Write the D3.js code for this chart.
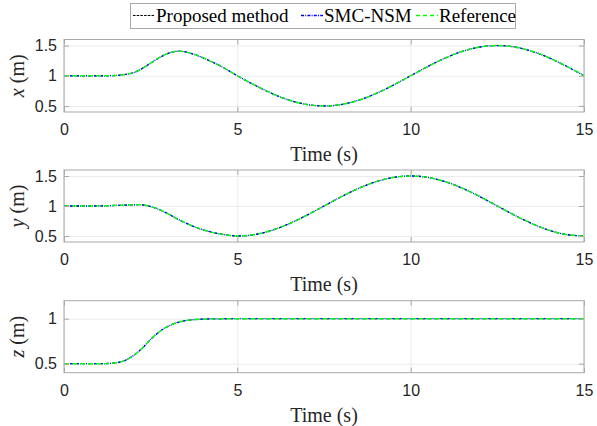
<!DOCTYPE html>
<html>
<head>
<meta charset="utf-8">
<script src="https://cdn.jsdelivr.net/npm/d3@7"></script>
<style>
  body { margin: 0; background: #fff; }
  svg { display: block; }
</style>
</head>
<body>
<svg id="chart" width="597" height="426"></svg>
<script>
// time samples (s)
const time = [0, 0.25, 0.5, 0.75, 1, 1.25, 1.5, 1.75, 2, 2.25, 2.5, 2.75, 3, 3.25, 3.5, 3.75, 4, 4.25, 4.5, 4.75, 5,
  5.5, 6, 6.5, 7, 7.5, 8, 8.5, 9, 9.5, 10, 10.5, 11, 11.5, 12, 12.5, 13, 13.5, 14, 14.5, 15];

// reference trajectory
const xRef = [1, 1, 1, 1, 1, 1, 1.005, 1.02, 1.05, 1.12, 1.21, 1.3, 1.37, 1.405, 1.395, 1.355, 1.3, 1.235, 1.165, 1.085, 1.0,
  0.845, 0.706, 0.595, 0.524, 0.5, 0.524, 0.595, 0.706, 0.845, 1.0, 1.155, 1.294, 1.405, 1.476, 1.5, 1.476, 1.405, 1.294, 1.155, 1.0];
const yRef = [1, 1, 1, 1, 1.002, 1.005, 1.01, 1.015, 1.02, 1.02, 0.99, 0.94, 0.87, 0.79, 0.72, 0.655, 0.605, 0.565, 0.535, 0.512, 0.5,
  0.524, 0.595, 0.706, 0.845, 1.0, 1.155, 1.294, 1.405, 1.476, 1.5, 1.476, 1.405, 1.294, 1.155, 1.0, 0.845, 0.706, 0.595, 0.524, 0.5];
const zRef = [0.5, 0.5, 0.5, 0.5, 0.5, 0.502, 0.51, 0.535, 0.59, 0.67, 0.77, 0.855, 0.915, 0.955, 0.978, 0.99, 0.995, 0.998, 0.999, 1, 1,
  1, 1, 1, 1, 1, 1, 1, 1, 1, 1, 1, 1, 1, 1, 1, 1, 1, 1, 1, 1];

// both controllers track the reference so closely that the curves coincide
const xProposed = xRef.slice(), yProposed = yRef.slice(), zProposed = zRef.slice();
const xSmc = xRef.slice(), ySmc = yRef.slice(), zSmc = zRef.slice();

const timeTicks = [0, 5, 10, 15];
const legendLabels = ["Proposed method", "SMC-NSM", "Reference"];

const svg = d3.select("#chart");
const left = 64, right = 584;
const boxColor = "#a8a8a8", gridColor = "#ebebeb", textColor = "#262626";

// black sits under the blue dashes, green dashes on top
const styles = [
  {color: "#000000", dash: "3,3", width: 0.8, legendDash: "2.5,1.2"},
  {color: "#0000ff", dash: "3,1,1,1", width: 1.3, legendDash: "3,1.2,1,1.2"},
  {color: "#00ff00", dash: "5,3", width: 1.4, legendDash: "4,3"}
];

const panels = [
  {top: 39.5, bottom: 112, domain: [0.4, 1.6], ticks: [0.5, 1, 1.5], name: "x", series: [xProposed, xSmc, xRef]},
  {top: 170, bottom: 242, domain: [0.4, 1.6], ticks: [0.5, 1, 1.5], name: "y", series: [yProposed, ySmc, yRef]},
  {top: 300.7, bottom: 372.7, domain: [0.4, 1.2], ticks: [0.5, 1], name: "z", series: [zProposed, zSmc, zRef]}
];

const x = d3.scaleLinear().domain([0, 15]).range([0, right - left]);
const fmt = d => String(d);

panels.forEach((p, i) => {
  const h = p.bottom - p.top, w = right - left;
  const y = d3.scaleLinear().domain(p.domain).range([h, 0]);
  const g = svg.append("g").attr("transform", `translate(${left},${p.top})`);

  // grid
  g.append("g").attr("transform", `translate(0,${h})`)
    .call(d3.axisBottom(x).tickValues(timeTicks).tickSize(-h).tickFormat(""))
    .call(a => a.select(".domain").remove())
    .selectAll("line").attr("stroke", gridColor);
  g.append("g")
    .call(d3.axisLeft(y).tickValues(p.ticks).tickSize(-w).tickFormat(""))
    .call(a => a.select(".domain").remove())
    .selectAll("line").attr("stroke", gridColor);

  // curves
  const clipId = "clip" + i;
  g.append("clipPath").attr("id", clipId).append("rect").attr("width", w).attr("height", h);
  p.series.forEach((vals, k) => {
    const line = d3.line().x((d, j) => x(time[j])).y(d => y(d)).curve(d3.curveCatmullRom);
    g.append("path").datum(vals)
      .attr("clip-path", `url(#${clipId})`)
      .attr("fill", "none")
      .attr("stroke", styles[k].color)
      .attr("stroke-width", styles[k].width)
      .attr("stroke-dasharray", styles[k].dash)
      .attr("d", line);
  });

  // axes with inward ticks on all four sides
  const bottomAxis = g.append("g").attr("transform", `translate(0,${h})`)
    .call(d3.axisBottom(x).tickValues(timeTicks).tickSize(-5).tickPadding(12).tickFormat(fmt));
  const leftAxis = g.append("g")
    .call(d3.axisLeft(y).tickValues(p.ticks).tickSize(-5).tickPadding(7).tickFormat(fmt));
  const topAxis = g.append("g")
    .call(d3.axisTop(x).tickValues(timeTicks).tickSize(-5).tickFormat(""));
  const rightAxis = g.append("g").attr("transform", `translate(${w},0)`)
    .call(d3.axisRight(y).tickValues(p.ticks).tickSize(-5).tickFormat(""));
  [bottomAxis, leftAxis, topAxis, rightAxis].forEach(a => {
    a.select(".domain").remove();
    a.selectAll("line").attr("stroke", boxColor);
    a.selectAll("text")
      .attr("fill", textColor)
      .style("font-family", "'Liberation Sans', Arial, sans-serif")
      .style("font-size", "16px");
  });
  g.append("rect").attr("width", w).attr("height", h)
    .attr("fill", "none").attr("stroke", boxColor).attr("stroke-width", 1);

  // labels
  g.append("text")
    .attr("x", w / 2).attr("y", h + 49)
    .attr("text-anchor", "middle")
    .attr("fill", textColor)
    .style("font-family", "'Liberation Serif', 'Times New Roman', serif")
    .style("font-size", "20px")
    .text("Time (s)");

  const yl = g.append("text")
    .attr("transform", `translate(${24 - left},${h / 2}) rotate(-90)`)
    .attr("text-anchor", "middle")
    .attr("fill", textColor)
    .style("font-family", "'Liberation Serif', 'Times New Roman', serif")
    .style("font-size", "20px");
  yl.append("tspan").style("font-style", "italic").text(p.name);
  yl.append("tspan").text(" (m)");
});

// legend
const legend = svg.append("g");
legend.append("rect")
  .attr("x", 130.5).attr("y", 3.5).attr("width", 385).attr("height", 25)
  .attr("fill", "#fff").attr("stroke", boxColor);
const itemX = [133, 301, 416];
legendLabels.forEach((label, k) => {
  const it = legend.append("g").attr("transform", `translate(${itemX[k]},0)`);
  it.append("line")
    .attr("x1", 0).attr("x2", 22).attr("y1", 15.5).attr("y2", 15.5)
    .attr("stroke", styles[k].color)
    .attr("stroke-width", k === 0 ? 1 : 1.4)
    .attr("stroke-dasharray", styles[k].legendDash);
  it.append("text")
    .attr("x", 23).attr("y", 21.5)
    .attr("fill", "#000")
    .style("font-family", "'Liberation Serif', 'Times New Roman', serif")
    .style("font-size", "19px")
    .text(label);
});
</script>
</body>
</html>
